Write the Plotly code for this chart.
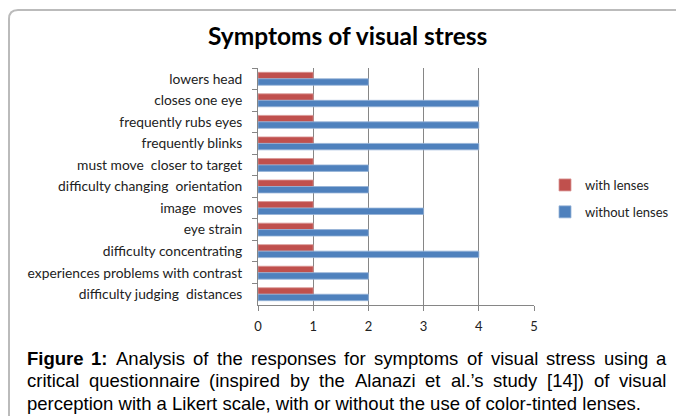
import plotly.graph_objects as go

W, H = 676, 416

categories = [
    "lowers head",
    "closes one eye",
    "frequently rubs eyes",
    "frequently blinks",
    "must move  closer to target",
    "difficulty changing  orientation",
    "image  moves",
    "eye strain",
    "difficulty concentrating",
    "experiences problems with contrast",
    "difficulty judging  distances",
]
with_lenses = [1, 1, 1, 1, 1, 1, 1, 1, 1, 1, 1]
without_lenses = [2, 4, 4, 4, 2, 2, 3, 2, 4, 2, 2]
x_ticks = [0, 1, 2, 3, 4, 5]

title_text = "Symptoms of visual stress"
caption_bold = "Figure 1:"
caption_text = ("Analysis of the responses for symptoms of visual stress using a "
                "critical questionnaire (inspired by the Alanazi et al.’s study [14]) of visual "
                "perception with a Likert scale, with or without the use of color-tinted lenses.")

RED = "#C0504D"
BLUE = "#4F81BD"
LABEL_FONT = "Lato, Open Sans, sans-serif"
CAP_FONT = "Liberation Sans, Arial, sans-serif"
CAP_SIZE = 18.5

# Arial / Liberation Sans advance widths (per 1000 em) for justified layout
REG = dict(zip("abcdefghijklmnopqrstuvwxyz",
               [556, 556, 500, 556, 556, 278, 556, 556, 222, 222, 500, 222, 833,
                556, 556, 556, 556, 333, 500, 278, 556, 500, 722, 500, 500, 500]))
REG.update({"A": 667, "L": 556, "F": 611, " ": 278, "(": 333, ")": 333, ",": 278,
            "-": 333, ".": 278, ":": 278, "[": 278, "]": 278, "’": 222, "'": 191})
REG.update({d: 556 for d in "0123456789"})
BOLD = {"F": 611, "i": 278, "g": 611, "u": 611, "r": 389, "e": 556, "1": 556,
        ":": 333, " ": 278}


def text_w(s, bold=False):
    tbl = BOLD if bold else REG
    return sum(tbl.get(c, 556) for c in s) / 1000 * CAP_SIZE


def px(x):
    return x / W


def py(y):
    return 1 - y / H


fig = go.Figure()
fig.add_trace(go.Bar(
    y=categories, x=with_lenses, orientation="h", name="with lenses", legendgroup="a",
    marker=dict(color=RED, line=dict(color="#D99694", width=0.8)),
))
fig.add_trace(go.Bar(
    y=categories, x=without_lenses, orientation="h", name="without lenses", legendgroup="b",
    marker=dict(color=BLUE, line=dict(color="#95B3D7", width=0.8)),
))

fig.update_layout(
    width=W, height=H,
    margin=dict(l=0, r=0, t=0, b=0),
    paper_bgcolor="white", plot_bgcolor="white",
    barmode="group", bargap=0.4, bargroupgap=0,
    font=dict(family=LABEL_FONT, color="#222"),
    showlegend=True,
    legend=dict(
        x=px(545), y=py(170), xanchor="left", yanchor="top",
        font=dict(size=13, family=LABEL_FONT, color="#222"),
        tracegroupgap=7, traceorder="grouped",
        itemwidth=30, bgcolor="rgba(0,0,0,0)",
    ),
    xaxis=dict(
        domain=[px(258), px(534)], range=[0, 5],
        tickvals=x_ticks, ticktext=[str(v) for v in x_ticks],
        showgrid=True, gridcolor="#868686", gridwidth=1,
        showline=True, linecolor="#868686", linewidth=1,
        ticks="outside", ticklen=5, tickcolor="#868686",
        tickfont=dict(size=13, family=LABEL_FONT, color="#222"),
        ticklabelstandoff=4,
        zeroline=False, automargin=False, fixedrange=True,
    ),
    yaxis=dict(
        domain=[py(305), py(68)], autorange="reversed",
        showline=True, linecolor="#868686", linewidth=1,
        ticks="outside", ticklen=5, tickcolor="#868686", tickson="boundaries",
        tickfont=dict(size=13.8, family=LABEL_FONT, color="#222"),
        ticklabelstandoff=12,
        showgrid=False, automargin=False, fixedrange=True,
    ),
)

# title
fig.add_annotation(
    text="<b>" + title_text + "</b>", x=px(347), y=py(35), xref="paper", yref="paper",
    xanchor="center", yanchor="middle", showarrow=False,
    font=dict(size=24.5, family=LABEL_FONT, color="#000"),
)

# caption: justified text, laid out word by word
words = caption_text.split(" ")
line1 = [("Figure", True), ("1:", True)] + [(w, False) for w in words[:11]]
line2 = [(w, False) for w in words[11:23]]
line3 = " ".join(words[23:])
left, right = 26, 666
for line, yy in [(line1, 358), (line2, 380.5)]:
    widths = [text_w(w, b) for w, b in line]
    gap = (right - left - sum(widths)) / (len(line) - 1)
    xx = left
    for (w, b), wd in zip(line, widths):
        fig.add_annotation(
            text=f"<b>{w}</b>" if b else w, x=px(xx - 1.5), y=py(yy),
            xref="paper", yref="paper", xanchor="left", yanchor="middle", showarrow=False,
            font=dict(size=CAP_SIZE, family=CAP_FONT, color="#000"),
        )
        xx += wd + gap
fig.add_annotation(
    text=line3, x=px(left - 1.5), y=py(403), xref="paper", yref="paper",
    xanchor="left", yanchor="middle", showarrow=False,
    font=dict(size=CAP_SIZE, family=CAP_FONT, color="#000"),
)

# rounded chart border
x0, y0, r = 9, 10, 9
path = (f"M {px(x0)},{py(H + 5)} L {px(x0)},{py(y0 + r)} "
        f"Q {px(x0)},{py(y0)} {px(x0 + r)},{py(y0)} L {px(W + 5)},{py(y0)}")
fig.add_shape(type="path", path=path, xref="paper", yref="paper",
              line=dict(color="#BBBBBB", width=2))

fig.write_html(
    "out.html",
    config={"displayModeBar": False},
    post_script="document.body.style.margin='0';document.body.style.overflow='hidden';",
)
